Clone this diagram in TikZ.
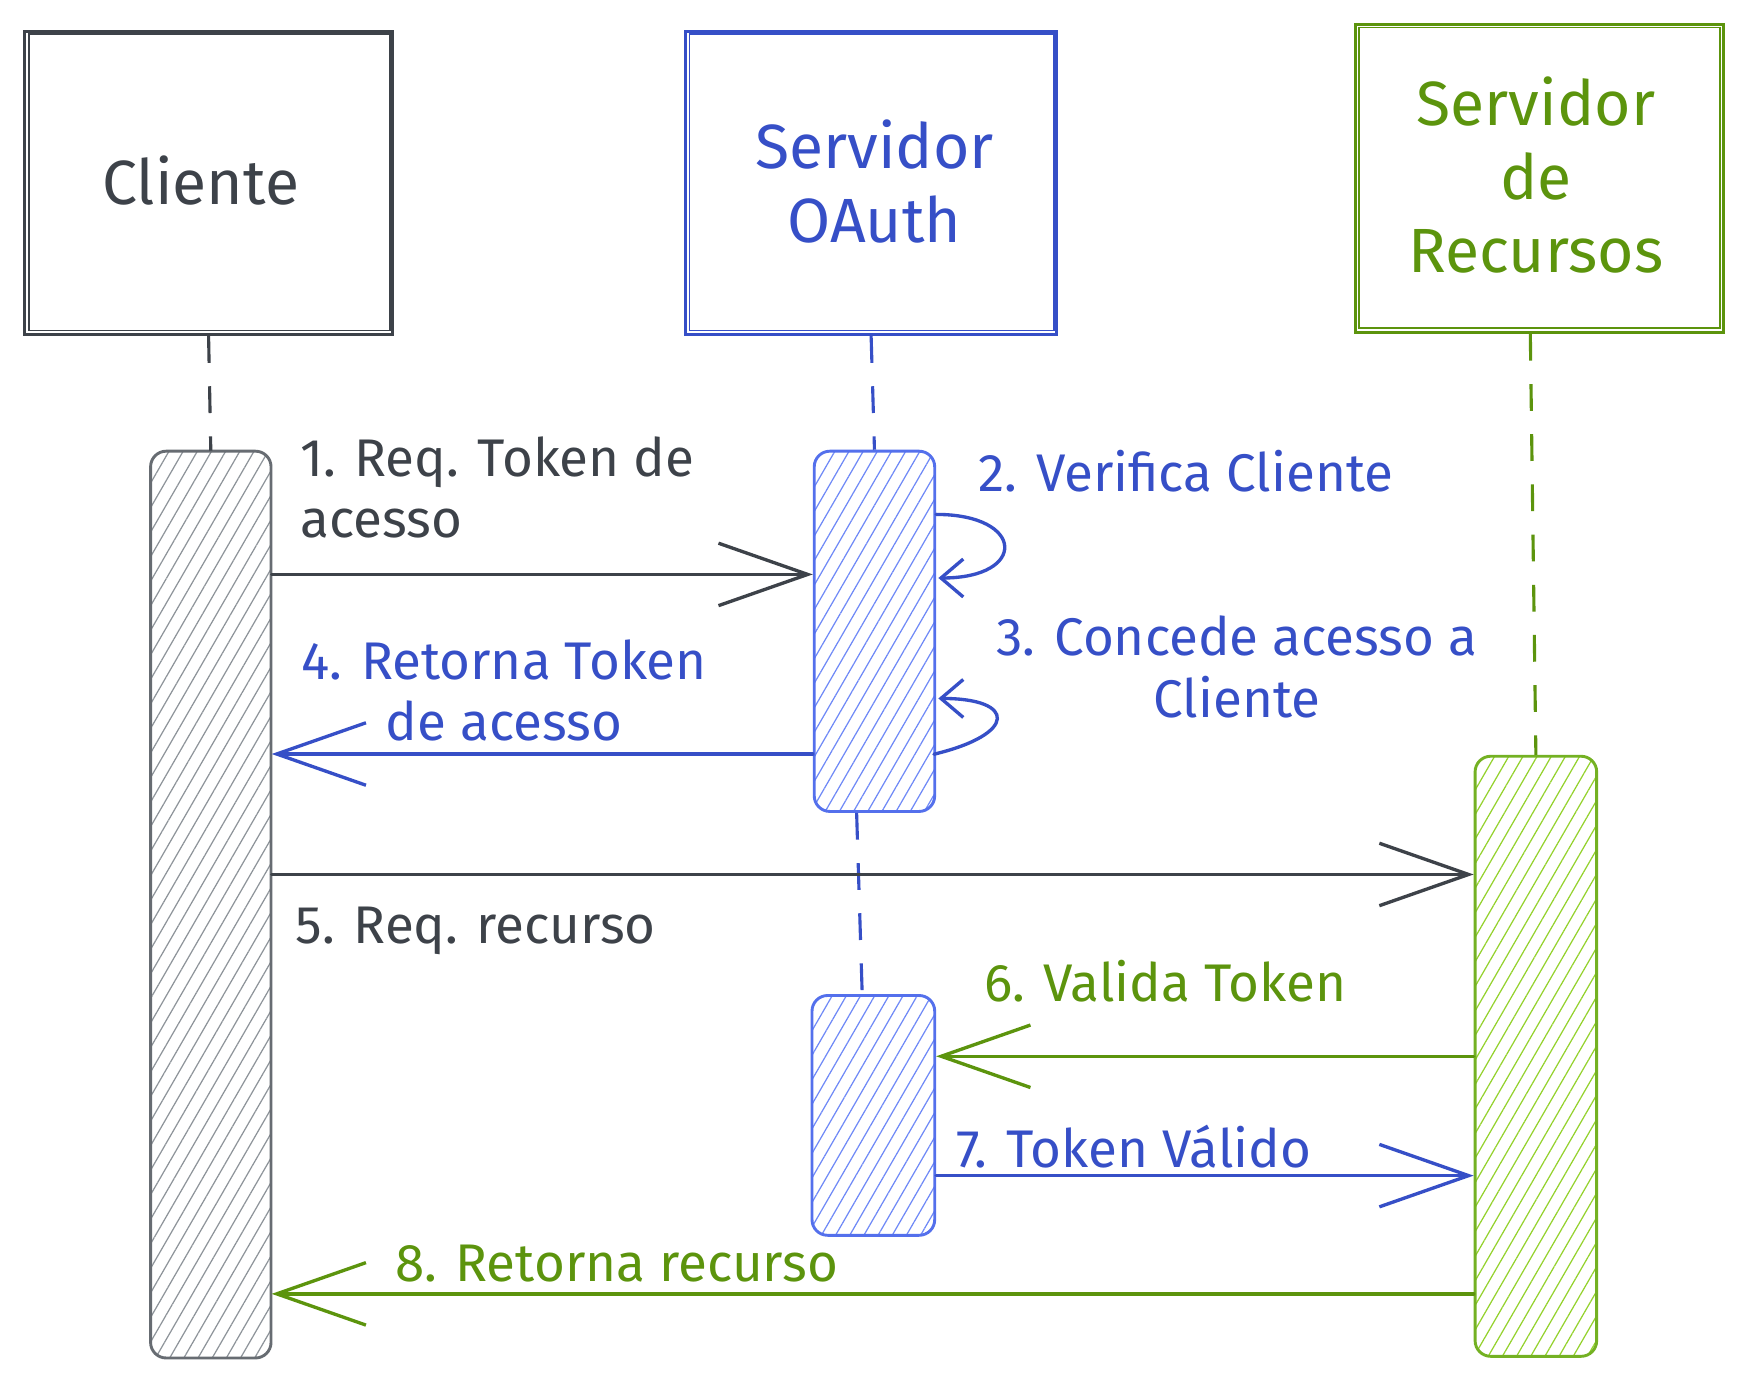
\documentclass[tikz,border=0pt]{standalone}
\usepackage{fontspec}
\setmainfont{Fira Sans}
\usetikzlibrary{arrows.meta,patterns.meta,calc}
\definecolor{cgrey}{HTML}{3D4249}
\definecolor{cgreyhatch}{HTML}{8E949A}
\definecolor{cgreybar}{HTML}{676C72}
\definecolor{cblue}{HTML}{364FC7}
\definecolor{cbluebar}{HTML}{5470EC}
\definecolor{cbluehatch}{HTML}{6F89F7}
\definecolor{cgreen}{HTML}{5C940D}
\definecolor{cgreenbar}{HTML}{74B123}
\definecolor{cgreenhatch}{HTML}{94D22D}
\begin{document}
\begin{tikzpicture}[x=1pt,y=-1pt,
  actor/.style={draw, line width=2.6pt, rectangle, align=center, inner sep=0pt,
     font=\fontsize{56}{66}\selectfont},
  actor2/.style={line width=1.6pt},
  bar/.style={draw, line width=2.6pt, rounded corners=14pt, rectangle, inner sep=0pt,
     minimum width=108pt},
  hatch/.style={pattern={Lines[angle=60,distance=11pt,line width=1.1pt]}},
  life/.style={line width=2.8pt, dash pattern=on 24pt off 21pt},
  msg/.style={line width=3pt, line cap=round,
     -{Straight Barb[length=80pt,width=56pt,line width=3pt]}},
  loopmsg/.style={line width=3pt, line cap=round,
     -{Straight Barb[length=20pt,width=34pt,line width=3pt]}},
  lbl/.style={font=\fontsize{47.5}{55}\selectfont, inner sep=0pt},
]
\useasboundingbox[fill=white] (0,0) rectangle (1560,1239);

% actor boxes
\node[actor, cgrey, minimum width=330pt, minimum height=272pt] (cbox) at (187,164) {};
\node[cgrey, font=\fontsize{56}{66}\selectfont] (ctext) at (180,162) {Cliente};
\node[actor, cblue, minimum width=333pt, minimum height=272pt] (obox) at (781,164) {};
\node[cblue, align=center, font=\fontsize{56}{66}\selectfont] (otext) at (784,163) {Servidor\\OAuth};
\node[actor, cgreen, minimum width=330pt, minimum height=276pt] (rbox) at (1380,160) {};
\node[cgreen, align=center, font=\fontsize{56}{66}\selectfont] (rtext) at (1377,157) {Servidor\\de\\Recursos};

\draw[actor2, cgrey] ([shift={(5,4)}]cbox.north west) rectangle ([shift={(-4,-5)}]cbox.south east);
\draw[actor2, cblue] ([shift={(5,4)}]obox.north west) rectangle ([shift={(-4,-5)}]obox.south east);
\draw[actor2, cgreen] ([shift={(5,4)}]rbox.north west) rectangle ([shift={(-4,-5)}]rbox.south east);

% activation bars
\node[bar, hatch, draw=cgreybar, pattern color=cgreyhatch, minimum height=813pt] (cbar) at (189,811) {};
\node[bar, hatch, draw=cbluebar, pattern color=cbluehatch, minimum height=323pt] (obar1) at (784,566) {};
\node[bar, hatch, draw=cbluebar, pattern color=cbluehatch, minimum width=110pt, minimum height=215pt] (obar2) at (783,1000) {};
\node[bar, hatch, draw=cgreenbar, pattern color=cgreenhatch, minimum width=109pt, minimum height=538pt] (rbar) at (1377,947) {};

% lifelines
\draw[life, cgrey] (cbox.south) -- (cbar.north);
\draw[life, cblue] (obox.south) -- (obar1.north);
\draw[life, cblue] ([xshift=-16pt]obar1.south) -- ([xshift=-10pt]obar2.north);
\draw[life, cgreen] ([xshift=-8pt]rbox.south) -- (rbar.north);

% message levels
\coordinate (m1) at (0,515);
\coordinate (m4) at (0,676);
\coordinate (m5) at (0,784);
\coordinate (m6) at (0,947);
\coordinate (m7) at (0,1054);
\coordinate (m8) at (0,1160);

% messages
\draw[msg, cgrey] (cbar.east |- m1) -- (obar1.west |- m1);
\draw[msg, cblue] (obar1.west |- m4) -- (cbar.east |- m4);
\draw[msg, cgrey] (cbar.east |- m5) -- (rbar.west |- m5);
\draw[msg, cgreen] (rbar.west |- m6) -- (obar2.east |- m6);
\draw[msg, cblue] (obar2.east |- m7) -- (rbar.west |- m7);
\draw[msg, cgreen] (rbar.west |- m8) -- (cbar.east |- m8);

% self loops
\coordinate (s2a) at ($(obar1.north east)+(0,58)$);
\coordinate (s2b) at ($(obar1.north east)+(2,115)$);
\draw[loopmsg, cblue] (s2a) .. controls ($(s2a)+(80,0)$) and ($(s2b)+(80,0)$) .. (s2b);
\coordinate (s3a) at ($(obar1.north east)+(-2,273)$);
\coordinate (s3b) at ($(obar1.north east)+(2,223)$);
\draw[loopmsg, cblue] (s3a) .. controls ($(s3a)+(75,-18)$) and ($(s3b)+(70,0)$) .. (s3b);

% labels
\node[lbl, cgrey, anchor=west, align=left] (l1) at (269,437) {1. Req. Token de\\acesso};
\node[lbl, cblue, anchor=west] (l2) at (877,422) {2. Verifica Cliente};
\node[lbl, cblue, align=center] (l3) at (1109,598) {3. Concede acesso a\\Cliente};
\node[lbl, cblue, align=center] (l4) at (452,619) {4. Retorna Token\\de acesso};
\node[lbl, cgrey, anchor=west] (l5) at (265,835) {5. Req. recurso};
\node[lbl, cgreen, anchor=west] (l6) at (882,880) {6. Valida Token};
\node[lbl, cblue, anchor=west] (l7) at (857,1028) {7. Token Válido};
\node[lbl, cgreen, anchor=west] (l8) at (354,1133) {8. Retorna recurso};
\end{tikzpicture}
\end{document}
